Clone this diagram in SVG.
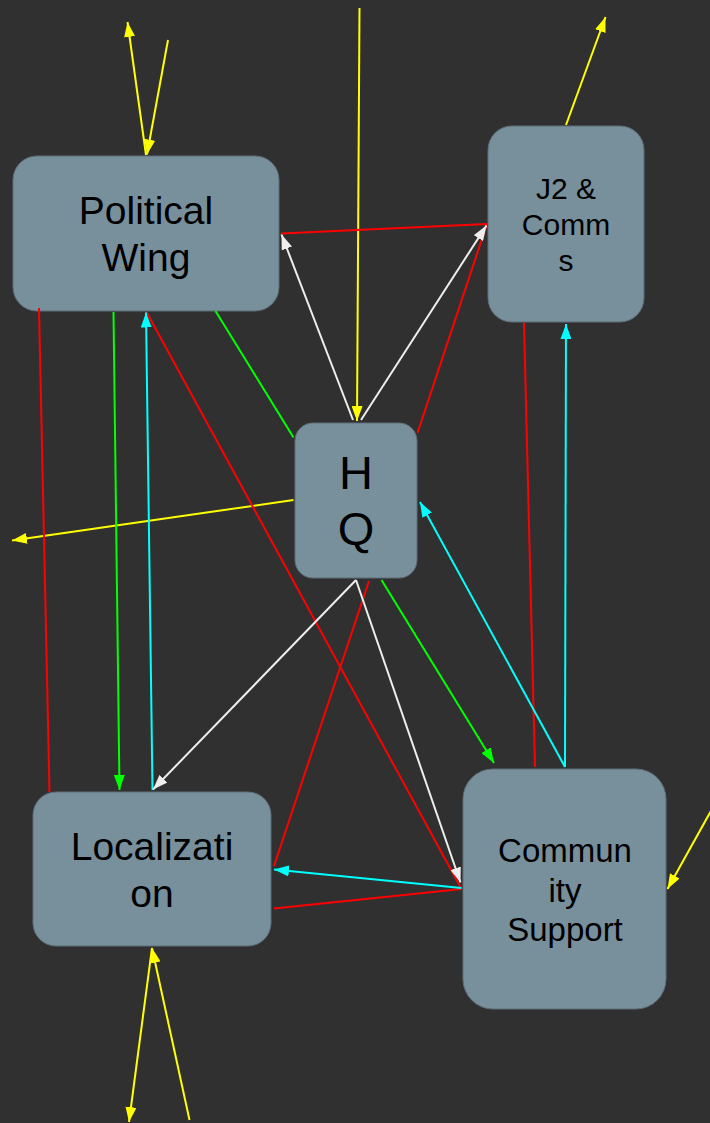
<svg xmlns="http://www.w3.org/2000/svg" width="710" height="1123" viewBox="0 0 710 1123">
<style>
.node rect{fill:#78909c;stroke:#5e6e78;stroke-width:1}
.node text{font-family:"Liberation Sans",Arial,sans-serif;fill:#000;text-anchor:middle}
.c{fill:none;stroke-width:2}
.y{stroke:#ffff00}.r{stroke:#ff0000}.g{stroke:#00ff00}.cy{stroke:#00ffff}.w{stroke:#eeeeee}
</style>
<defs>
<marker id="my" markerUnits="userSpaceOnUse" markerWidth="15" markerHeight="11" refX="15" refY="5.5" orient="auto"><path d="M0,0L15,5.5L0,11z" fill="#ffff00"/></marker>
<marker id="mg" markerUnits="userSpaceOnUse" markerWidth="15" markerHeight="11" refX="15" refY="5.5" orient="auto"><path d="M0,0L15,5.5L0,11z" fill="#00ff00"/></marker>
<marker id="mc" markerUnits="userSpaceOnUse" markerWidth="15" markerHeight="11" refX="15" refY="5.5" orient="auto"><path d="M0,0L15,5.5L0,11z" fill="#00ffff"/></marker>
<marker id="mw" markerUnits="userSpaceOnUse" markerWidth="15" markerHeight="11" refX="15" refY="5.5" orient="auto"><path d="M0,0L15,5.5L0,11z" fill="#eeeeee"/></marker>
</defs>
<rect x="0" y="0" width="710" height="1123" fill="#303030"/>
<g id="political-wing" class="node">
<rect x="13" y="156" width="266" height="155" rx="24" ry="24"/>
<text font-size="39"><tspan x="146" y="224">Political</tspan><tspan x="146" y="271">Wing</tspan></text>
</g>
<g id="j2-comms" class="node">
<rect x="488" y="126" width="156" height="196" rx="24" ry="24"/>
<text font-size="30"><tspan x="566" y="199">J2 &amp;</tspan><tspan x="566" y="235">Comm</tspan><tspan x="566" y="271">s</tspan></text>
</g>
<g id="hq" class="node">
<rect x="295" y="423" width="122" height="155" rx="18" ry="18"/>
<text font-size="47"><tspan x="356" y="489">H</tspan><tspan x="356" y="545">Q</tspan></text>
</g>
<g id="localization" class="node">
<rect x="33" y="792" width="238" height="154" rx="23" ry="23"/>
<text font-size="39"><tspan x="152" y="859.5">Localizati</tspan><tspan x="152" y="906.5">on</tspan></text>
</g>
<g id="community-support" class="node">
<rect x="463" y="769" width="203" height="240" rx="30" ry="30"/>
<text font-size="33"><tspan x="565" y="862">Commun</tspan><tspan x="565" y="901.5">ity</tspan><tspan x="565" y="941">Support</tspan></text>
</g>
<g id="connectors">
<path class="c y" d="M146,155L127.5,22" marker-end="url(#my)"/>
<path class="c y" d="M168,40L147,154.5" marker-end="url(#my)"/>
<path class="c y" d="M359.5,8L357,421" marker-end="url(#my)"/>
<path class="c y" d="M566,125L605.5,17" marker-end="url(#my)"/>
<path class="c y" d="M293.5,500L12,540.5" marker-end="url(#my)"/>
<path class="c y" d="M712,809L667.5,889" marker-end="url(#my)"/>
<path class="c y" d="M152,948L129,1122" marker-end="url(#my)"/>
<path class="c y" d="M189.5,1120L152,948" marker-end="url(#my)"/>
<path class="c r" d="M281,233.5L487,224"/>
<path class="c r" d="M417.5,433L487,224"/>
<path class="c r" d="M39,308L49.5,792"/>
<path class="c r" d="M146.5,312L461.5,889"/>
<path class="c r" d="M369,581L274,866"/>
<path class="c r" d="M274,908.5L461.5,889"/>
<path class="c r" d="M524,323L535,767"/>
<path class="c g" d="M113.5,312L119.5,790" marker-end="url(#mg)"/>
<path class="c g" d="M215.5,311L293.5,437.5"/>
<path class="c g" d="M381.5,580L494,763" marker-end="url(#mg)"/>
<path class="c cy" d="M152.5,790L146,312.5" marker-end="url(#mc)"/>
<path class="c cy" d="M565,767L566,324" marker-end="url(#mc)"/>
<path class="c cy" d="M565,767L420,502" marker-end="url(#mc)"/>
<path class="c cy" d="M461.5,888L274,869.5" marker-end="url(#mc)"/>
<path class="c w" d="M353,420L281.5,234.5" marker-end="url(#mw)"/>
<path class="c w" d="M361,420L486.5,225.5" marker-end="url(#mw)"/>
<path class="c w" d="M356,580L153,789.5" marker-end="url(#mw)"/>
<path class="c w" d="M356,580L460.5,882.5" marker-end="url(#mw)"/>
</g>
</svg>
